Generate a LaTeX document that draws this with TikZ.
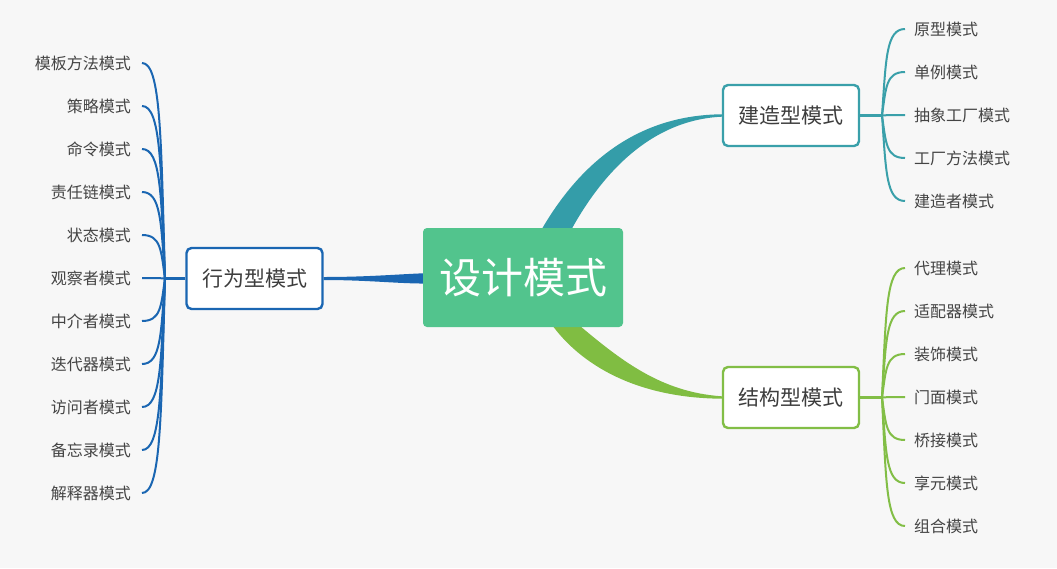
\documentclass[tikz,border=0pt]{standalone}
\usepackage{fontspec}
\setmainfont{Noto Sans CJK SC}
\usetikzlibrary{calc}
\definecolor{bgc}{HTML}{F7F7F7}
\definecolor{cgreen}{HTML}{52C48D}
\definecolor{cteal}{HTML}{3AA0AA}
\definecolor{cteald}{HTML}{349DA9}
\definecolor{clime}{HTML}{82BE46}
\definecolor{climed}{HTML}{80BD42}
\definecolor{cblue}{HTML}{1A66B2}
\definecolor{ctext}{HTML}{444444}
\pgfdeclarelayer{branch}
\pgfsetlayers{branch,main}
\tikzset{
  centerbox/.style={fill=cgreen, rounded corners=4pt, minimum width=200pt, minimum height=99pt,
    text=white, font=\fontsize{42}{50}\selectfont, inner sep=0pt},
  subbox/.style={draw=#1, fill=white, line width=2.4pt, rounded corners=5pt, minimum width=136pt,
    minimum height=61pt, inner sep=0pt, text=ctext!90!black, font=\fontsize{21}{25}\selectfont},
  rleaf/.style={anchor=west, inner xsep=9pt, inner ysep=2pt, text=ctext, font=\fontsize{16}{19}\selectfont},
  lleaf/.style={anchor=east, inner xsep=11pt, inner ysep=2pt, text=ctext, font=\fontsize{16}{19}\selectfont},
  leafline/.style={draw=#1, line width=2pt},
  stem/.style={draw=#1, line width=3.5pt}
}
\begin{document}
\begin{tikzpicture}[x=1pt,y=-1pt]
\useasboundingbox (0,0) rectangle (1057,568);
\begin{pgfonlayer}{branch}
\fill[bgc] (0,0) rectangle (1057,568);
\end{pgfonlayer}

\node[centerbox] (c) at (523,277.5) {设计模式};
\node[subbox=cteal] (b1) at (791,115.5) {建造型模式};
\node[subbox=clime] (b2) at (791,397.5) {结构型模式};
\node[subbox=cblue] (b3) at (254.5,278.5) {行为型模式};

\coordinate (j1) at (882,115.5);
\coordinate (j2) at (882,397.5);
\coordinate (j3) at (165,278.5);

\begin{pgfonlayer}{branch}
% main branches (tapered)
\fill[cteald] ($(c.north)+(15,8)$) .. controls (580,160) and (640,115) .. ($(b1.west)+(0,-1.2)$)
  -- ($(b1.west)+(0,1.2)$) .. controls (650,120) and (600,175) .. ($(c.north)+(45,8)$) -- cycle;
\fill[climed] ($(c.south)+(25,-8)$) .. controls (575,360) and (630,398) .. ($(b2.west)+(0,1.2)$)
  -- ($(b2.west)+(0,-1.2)$) .. controls (660,392) and (620,360) .. ($(c.south)+(49,-8)$) -- cycle;
\fill[cblue] ($(b3.east)+(0,-1.5)$) .. controls (370,277) and (400,274) .. ($(c.west)+(8,-4.5)$)
  -- ($(c.west)+(8,6)$) .. controls (400,284) and (370,280) .. ($(b3.east)+(0,1.5)$) -- cycle;
\end{pgfonlayer}

\draw[stem=cteal] (b1.east) -- (j1);
\draw[stem=clime] (b2.east) -- (j2);
\draw[stem=cblue] (b3.west) -- (j3);

\foreach \t/\y [count=\i] in {原型模式/29, 单例模式/72, 抽象工厂模式/115, 工厂方法模式/158, 建造者模式/201} {
  \node[rleaf] (r\i) at (905,\y) {\t};
  \draw[leafline=cteal] (j1) .. controls (886,{\y+(115.5-\y)*0.35}) and (886,\y) .. (r\i.west);
}
\foreach \t/\y [count=\i] in {代理模式/268, 适配器模式/311, 装饰模式/354, 门面模式/397, 桥接模式/440, 享元模式/483, 组合模式/526} {
  \node[rleaf] (g\i) at (905,\y) {\t};
  \draw[leafline=clime] (j2) .. controls (886,{\y+(397.5-\y)*0.35}) and (886,\y) .. (g\i.west);
}
\foreach \t/\y [count=\i] in {模板方法模式/63, 策略模式/106, 命令模式/149, 责任链模式/192, 状态模式/235, 观察者模式/278, 中介者模式/321, 迭代器模式/364, 访问者模式/407, 备忘录模式/450, 解释器模式/493} {
  \node[lleaf] (l\i) at (142,\y) {\t};
  \draw[leafline=cblue] (j3) .. controls (161,{\y+(278.5-\y)*0.35}) and (161,\y) .. (l\i.east);
}
\end{tikzpicture}
\end{document}
